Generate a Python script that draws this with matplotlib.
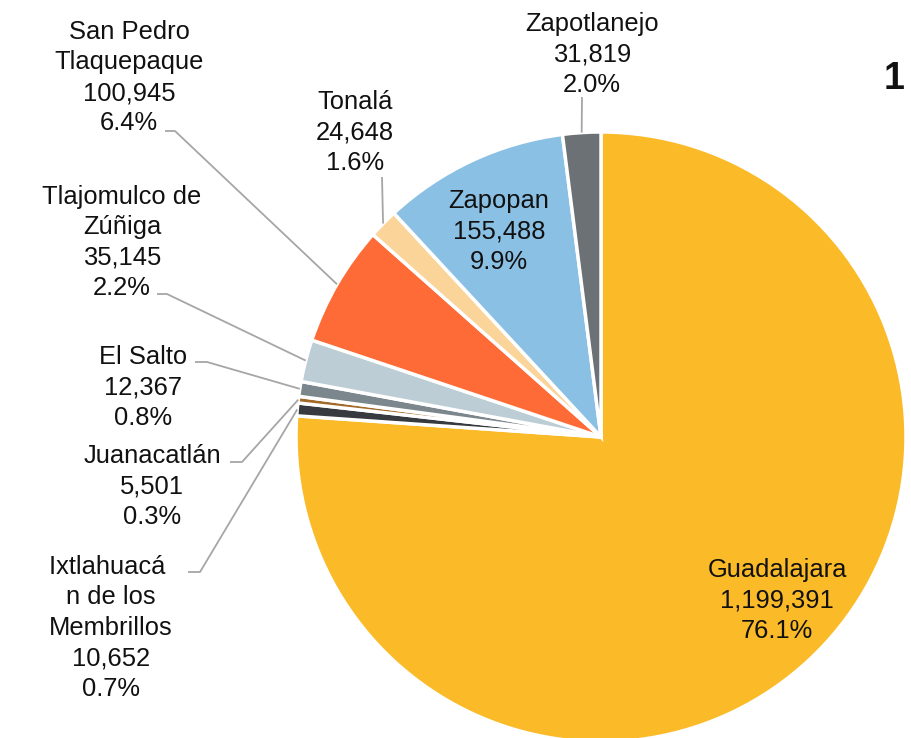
import numpy as np
import matplotlib
matplotlib.use("Agg")
import matplotlib.pyplot as plt

plt.rcParams['font.family'] = ['Liberation Sans', 'DejaVu Sans']

# datos (en sentido horario desde arriba)
municipios = ['Guadalajara', 'Ixtlahuacán de los Membrillos', 'Juanacatlán', 'El Salto',
              'Tlajomulco de Zúñiga', 'San Pedro Tlaquepaque', 'Tonalá', 'Zapopan', 'Zapotlanejo']
poblacion = [1199391, 10652, 5501, 12367, 35145, 100945, 24648, 155488, 31819]
etiquetas = [
    ['Guadalajara'],
    ['Ixtlahuacá ', 'n de los', 'Membrillos'],
    ['Juanacatlán'],
    ['El Salto'],
    ['Tlajomulco de', 'Zúñiga'],
    ['San Pedro', 'Tlaquepaque'],
    ['Tonalá'],
    ['Zapopan'],
    ['Zapotlanejo'],
]
colores = ['#FBBA27', '#373A3E', '#A36A2A', '#7C878D', '#BCCDD5',
           '#FF6B37', '#FBD49A', '#8BC0E5', '#6B7174']

W, H = 912, 738
fig = plt.figure(figsize=(W / 100, H / 100), dpi=100)
ax = fig.add_axes([0, 0, 1, 1])

def Y(py):
    return H - py

cx, cy, r = 601, 437, 305
wedges, _ = ax.pie(poblacion, colors=colores, startangle=90, counterclock=False,
                   center=(cx, Y(cy)), radius=r,
                   wedgeprops=dict(edgecolor='white', linewidth=2.5))
ax.set_xlim(0, W)
ax.set_ylim(0, H)
ax.set_aspect('equal')
ax.axis('off')

total = sum(poblacion)

# posición de texto: (centro x, primera línea base y) y codo de la guía (x0, y0, largo)
layout = {
    0: (777, 577, None),
    1: (111, 574, (188, 572, 12)),
    2: (152, 463, (230, 462, 12)),
    3: (143, 364, (195, 362, 12)),
    4: (122, 204, (157, 294, 10)),
    5: (129, 39, (165, 131, 10)),
    6: (355, 109, (382, 177, 0)),
    7: (499, 208, None),
    8: (592, 31, (582, 97, 0)),
}
paso = 30.5

for i, w in enumerate(wedges):
    lineas = etiquetas[i] + [f'{poblacion[i]:,}', f'{100 * poblacion[i] / total:.1f}%']
    tx, ty, guia = layout[i]
    for k, t in enumerate(lineas):
        ax.text(tx, Y(ty + k * paso), t, ha='center', va='baseline', fontsize=18.4,
                color='#111111')
    if guia is not None:
        ang = np.deg2rad((w.theta1 + w.theta2) / 2)
        ex, ey = cx + r * np.cos(ang), cy - r * np.sin(ang)
        x0, y0, d = guia
        if d == 0:
            xs, ys = [x0, ex], [y0, ey]
        else:
            xs, ys = [x0, x0 + d, ex], [y0, y0, ey]
        ax.plot(xs, [Y(v) for v in ys], color='#A6A6A6', lw=1.3, solid_capstyle='butt')

ax.text(884, Y(89), '1', ha='left', va='baseline', fontsize=27, fontweight='bold',
        color='#111111')

fig.savefig('out.png', dpi=100)
